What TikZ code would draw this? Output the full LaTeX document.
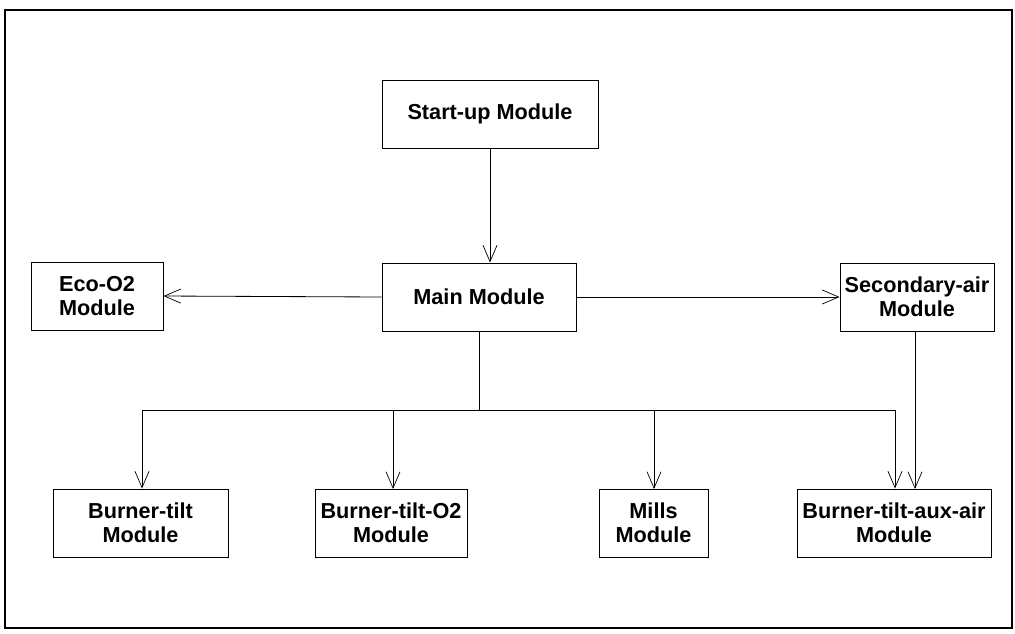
\documentclass[tikz,border=0pt]{standalone}
\usepackage{fontspec}
\setmainfont{Liberation Sans}
\usetikzlibrary{arrows.meta}
\begin{document}
\begin{tikzpicture}[x=0.03cm,y=-0.03cm,
  module/.style={draw,line width=0.8pt,rectangle,align=center,
    font=\bfseries\fontsize{18.5}{20.5}\selectfont,inner sep=1pt,
    minimum height=68*0.03cm},
  link/.style={line width=0.7pt,-{Straight Barb[length=14pt,width=12pt,line width=0.6pt]}},
  bus/.style={line width=0.7pt}]
\useasboundingbox (0,0) rectangle (1015,633);
\draw[line width=1.6pt] (5,10) rectangle (1012,628);

\node[module,minimum width=216*0.03cm] (start) at (490,114) {Start-up Module};
\node[module,minimum width=194*0.03cm] (main) at (479,297) {Main Module};
\node[module,minimum width=132*0.03cm] (eco) at (97,296) {Eco-O2\\Module};
\node[module,minimum width=154*0.03cm] (sec) at (917,297) {Secondary-air\\Module};
\node[module,minimum width=175*0.03cm] (bt) at (140.5,523) {Burner-tilt\\Module};
\node[module,minimum width=152*0.03cm] (bto) at (391,523) {Burner-tilt-O2\\Module};
\node[module,minimum width=109*0.03cm] (mills) at (653.5,523) {Mills\\Module};
\node[module,minimum width=194*0.03cm] (aux) at (894,523) {Burner-tilt-aux-air\\Module};

\coordinate (busL) at (142,410);
\coordinate (busR) at (895,410);
\coordinate (busM) at (479,410);

\draw[link] (start.south) -- (start.south |- main.north);
\draw[link] (main.west) -- (eco.east);
\draw[link] (main.east) -- (sec.west);
\draw[bus] (main.south) -- (busM);
\draw[link] (busM) -| (busL) -- (busL |- bt.north);
\draw[link] (busM) -| (busR) -- (busR |- aux.north);
\draw[link] (393,410) -- (393,489);
\draw[link] (654,410) -- (654,489);
\draw[link] (sec.south -| 915,0) -- (915,489);
\end{tikzpicture}
\end{document}
